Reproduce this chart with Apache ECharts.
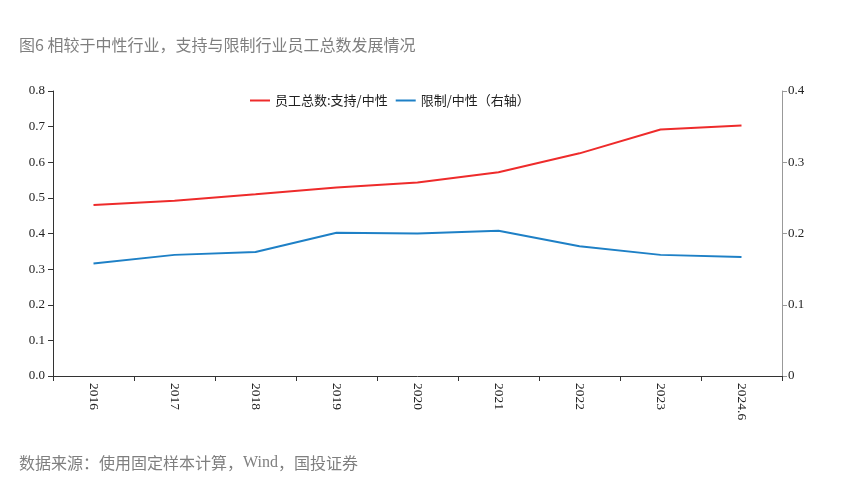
<!DOCTYPE html>
<html><head><meta charset="utf-8">
<script src="https://cdn.jsdelivr.net/npm/echarts@6/dist/echarts.min.js"></script>
<style>html,body{margin:0;padding:0;background:#fff}#c{width:844px;height:486px}</style>
</head><body><div id="c"></div>
<script>
const categories = ['2016','2017','2018','2019','2020','2021','2022','2023','2024.6'];
const totalSupportVsNeutral = [0.480,0.492,0.510,0.529,0.543,0.572,0.625,0.692,0.703];
const restrictVsNeutral = [0.158,0.170,0.174,0.201,0.200,0.204,0.182,0.170,0.167];
const leftTicks = {min:0,max:0.8,interval:0.1};
const rightTicks = {min:0,max:0.4,interval:0.1};
const titleText = '图6 相较于中性行业，支持与限制行业员工总数发展情况';
const sourceParts = ['数据来源：使用固定样本计算，','Wind','，国投证券'];
const seriesNames = ['员工总数:支持/中性','限制/中性（右轴）'];

const chart = echarts.init(document.getElementById('c'));
const serif = '"Liberation Serif", "Times New Roman", serif';
const cjk = '"Noto Sans CJK SC", sans-serif';
chart.setOption({
  animation:false,
  title:[
    {text:titleText,left:14,top:32,textStyle:{fontFamily:cjk,fontSize:16,fontWeight:'normal',color:'#7f7f7f'}},
    {text:'{a|'+sourceParts[0]+'}{b|'+sourceParts[1]+'}{a|'+sourceParts[2]+'}',left:14,top:450,
     textStyle:{fontWeight:'normal',rich:{
       a:{fontFamily:cjk,fontSize:16,fontWeight:'normal',color:'#7f7f7f'},
       b:{fontFamily:serif,fontSize:16,fontWeight:'normal',color:'#7f7f7f'}}}}
  ],
  legend:{left:245,top:89,itemGap:8,itemWidth:20,itemHeight:2,icon:'rect',
    textStyle:{fontFamily:cjk,fontSize:13,color:'#222'},
    data:seriesNames},
  grid:{left:53,right:62,top:91,bottom:110},
  xAxis:{type:'category',data:categories,boundaryGap:true,
    axisLine:{lineStyle:{color:'#333',width:1}},
    axisTick:{show:true,alignWithLabel:false,length:5,lineStyle:{color:'#333'}},
    axisLabel:{rotate:-90,margin:7,fontFamily:serif,fontSize:13.5,color:'#222'}},
  yAxis:[
    {type:'value',min:leftTicks.min,max:leftTicks.max,interval:leftTicks.interval,position:'left',
     axisLine:{show:true,lineStyle:{color:'#333'}},axisTick:{show:true,length:5,lineStyle:{color:'#333'}},
     splitLine:{show:false},
     axisLabel:{fontFamily:serif,fontSize:13,color:'#222',margin:8,formatter:v=>v.toFixed(1)}},
    {type:'value',min:rightTicks.min,max:rightTicks.max,interval:rightTicks.interval,position:'right',
     axisLine:{show:true,lineStyle:{color:'#999'}},axisTick:{show:true,length:5,lineStyle:{color:'#999'}},
     splitLine:{show:false},
     axisLabel:{fontFamily:serif,fontSize:13,color:'#222',margin:6,formatter:v=>v===0?'0':v.toFixed(1)}}
  ],
  series:[
    {name:seriesNames[0],type:'line',yAxisIndex:0,data:totalSupportVsNeutral,showSymbol:false,
     lineStyle:{color:'#ee2b2b',width:2},itemStyle:{color:'#ee2b2b'}},
    {name:seriesNames[1],type:'line',yAxisIndex:1,data:restrictVsNeutral,showSymbol:false,
     lineStyle:{color:'#1e80c6',width:2},itemStyle:{color:'#1e80c6'}}
  ]
});
</script></body></html>
